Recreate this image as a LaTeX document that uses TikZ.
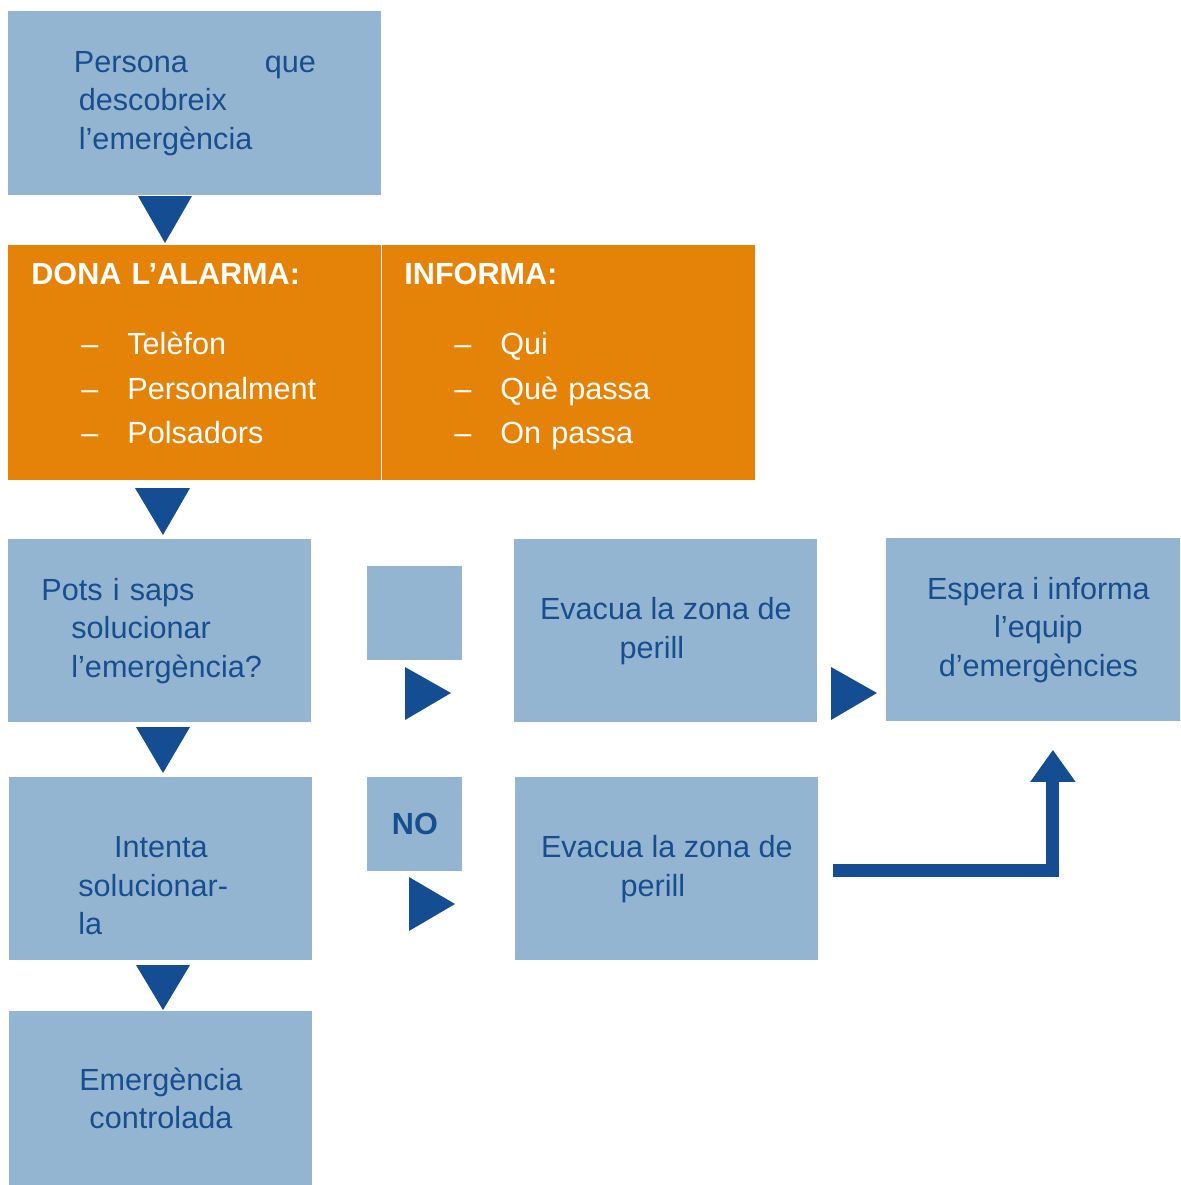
\documentclass[tikz,border=0pt]{standalone}
\usepackage{fontspec}
\setmainfont{Liberation Sans}
\usetikzlibrary{arrows.meta, positioning}
\definecolor{boxblue}{RGB}{148,181,210}
\definecolor{arrowblue}{RGB}{20,77,145}
\definecolor{textblue}{RGB}{24,78,142}
\definecolor{alarmorange}{RGB}{229,131,8}

\begin{document}
\begin{tikzpicture}[x=0.5pt, y=-0.5pt,
  every node/.style={font=\fontsize{15.3pt}{19.3pt}\selectfont},
  box/.style={fill=boxblue, text=textblue, anchor=north west, inner sep=0pt,
    minimum width=151.5pt, minimum height=91.5pt, align=center},
  orangebox/.style={fill=alarmorange, text=white, anchor=north west, inner xsep=11.5pt,
    inner ysep=0pt, text width=163.5pt, minimum height=117.5pt, align=left},
  pointer/.style={fill=arrowblue},
  elbow/.style={draw=arrowblue, line width=6.5pt, line join=miter,
    -{Triangle[width=21.5pt, length=16pt]}}]
\useasboundingbox (0,0) rectangle (1180,1185);

\node[box, minimum width=186.5pt, minimum height=92pt, text width=121pt, align=left] (finder) at (8,11)
  {Persona\hfill que\\\hspace*{2.5pt}descobreix\\\hspace*{2.5pt}l’emergència};

\node[orangebox] (alarm) at (8,245)
  {\textbf{DONA L’ALARMA:}\\[16pt]
   \hspace*{25pt}\makebox[23pt][l]{–}Telèfon\\[3pt]
   \hspace*{25pt}\makebox[23pt][l]{–}Personalment\\[3pt]
   \hspace*{25pt}\makebox[23pt][l]{–}Polsadors\rule[-9.5pt]{0pt}{9.5pt}};
\node[orangebox, inner xsep=11pt, text width=164.5pt] (inform) at (382,245)
  {\textbf{INFORMA:}\\[16pt]
   \hspace*{25pt}\makebox[23pt][l]{–}Qui\\[3pt]
   \hspace*{25pt}\makebox[23pt][l]{–}Què passa\\[3pt]
   \hspace*{25pt}\makebox[23pt][l]{–}On passa\rule[-9.5pt]{0pt}{9.5pt}};

\node[box, text width=118.5pt, align=left] (ask) at (8,539)
  {Pots i saps\\\hspace*{15pt}solucionar\\\hspace*{15pt}l’emergència?};
\node[box, minimum width=47.5pt, minimum height=47pt] (blank) at (367,566) {};
\node[box] (evac) at (514,539) {Evacua la zona de\\perill\hspace*{14pt}};
\node[box, minimum width=147pt] (wait) at (886,538)
  {\hspace*{5pt}Espera i informa\\\hspace*{5pt}l’equip\\\hspace*{5pt}d’emergències};

\node[box] (try) at (9,777) {};
\node[text=textblue, text width=82.5pt, align=left, inner sep=0pt] (tryText) at ([yshift=-8.5pt]try.center)
  {\hspace*{\fill}Intenta\hspace*{\fill}\null\\solucionar-\\la};
\node[box, minimum width=47.5pt, minimum height=47pt, font=\fontsize{15.3pt}{19.3pt}\selectfont\bfseries] (no) at (367,777) {NO};
\node[box] (evacb) at (515,777) {Evacua la zona de\\perill\hspace*{14pt}};

\node[box, minimum height=87pt] (done) at (9,1011) {Emergència\\controlada};

\fill[pointer] (138,196) -- (192,196) -- (165,243) -- cycle;
\fill[pointer] (135,488) -- (190,488) -- (163,535) -- cycle;
\fill[pointer] (136,727) -- (190,727) -- (163,773) -- cycle;
\fill[pointer] (136,965) -- (190,965) -- (163,1010) -- cycle;
\fill[pointer] (405,667) -- (405,720) -- (451,693) -- cycle;
\fill[pointer] (831,667) -- (831,720) -- (877,693) -- cycle;
\fill[pointer] (409,877) -- (409,931) -- (455,904) -- cycle;

\draw[elbow] ([xshift=7pt, yshift=-0.75pt]evacb.east) -| ([xshift=9.75pt, yshift=-14pt]wait.south);
\end{tikzpicture}
\end{document}
